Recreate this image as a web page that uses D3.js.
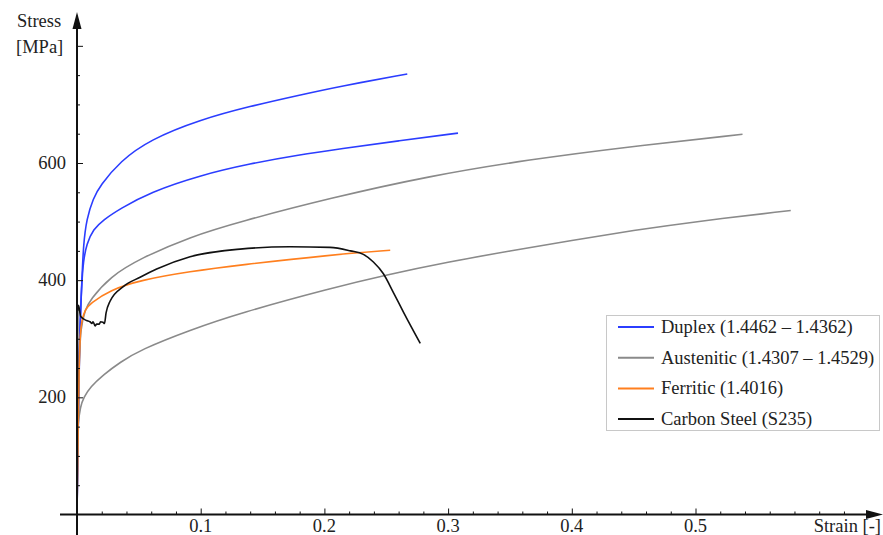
<!doctype html>
<meta charset="utf-8">
<title>Stress strain curves</title>
<script src="https://cdn.jsdelivr.net/npm/d3@7"></script>
<style>
  body { margin: 0; background: #fff; }
</style>
<svg id="chart" width="883" height="535"></svg>
<script>
  // strain [-], stress [MPa]
  const duplexHigh = [[0, 0], [0.0015, 250], [0.0025, 330], [0.0038, 390], [0.0051, 460], [0.0078, 505], [0.0132, 540], [0.0186, 561], [0.0348, 603], [0.059, 640], [0.0994, 674], [0.14, 697], [0.18, 716], [0.2126, 731], [0.267, 752]]
  const duplexLow = [[0, 0], [0.002, 300], [0.0038, 395], [0.0051, 432], [0.0078, 462], [0.0132, 487], [0.0213, 503], [0.0348, 522], [0.059, 550], [0.0994, 579], [0.14, 599], [0.18, 614], [0.2126, 624], [0.26, 638], [0.308, 651]]
  const austHigh = [[0, 0], [0.0015, 260], [0.003, 320], [0.0067, 350], [0.0105, 366], [0.0267, 406], [0.051, 437], [0.0914, 474], [0.1318, 500], [0.2045, 540], [0.285, 578], [0.366, 606], [0.447, 628], [0.538, 649]]
  const austLow = [[0, 0], [0.0003, 120], [0.0008, 155], [0.0027, 184], [0.0054, 200], [0.011, 218], [0.021, 238], [0.035, 260], [0.051, 281], [0.0914, 315], [0.1318, 344], [0.2045, 386], [0.25, 409], [0.3, 431], [0.35, 450], [0.4, 468], [0.45, 485], [0.5, 500], [0.577, 519]]
  const ferritic = [[0, 0], [0.0015, 250], [0.0027, 312], [0.004, 333], [0.0067, 350], [0.0105, 360], [0.0267, 383], [0.051, 400], [0.0914, 415], [0.1318, 426], [0.2045, 443], [0.2532, 451]]
  const carbon = [[0, 0], [0.0005, 348], [0.0012, 357], [0.003, 338], [0.0078, 331], [0.0105, 329], [0.012, 326], [0.013, 329], [0.0146, 322], [0.0159, 325], [0.018, 325], [0.019, 329], [0.021, 328], [0.0222, 326], [0.0235, 344], [0.0267, 364], [0.0374, 389], [0.051, 405], [0.0644, 419], [0.0914, 440], [0.1318, 453], [0.172, 457], [0.2045, 456], [0.221, 450], [0.2315, 444], [0.2396, 431], [0.2477, 411], [0.256, 378], [0.264, 345], [0.2775, 292]]

  const seriesNames = ['Duplex (1.4462 – 1.4362)', 'Austenitic (1.4307 – 1.4529)', 'Ferritic (1.4016)', 'Carbon Steel (S235)']
  const seriesColors = ['#2b3dff', '#8a8a8a', '#ff7f1e', '#111111']
  const curves = [
    { data: duplexHigh, group: 0 },
    { data: duplexLow, group: 0 },
    { data: austHigh, group: 1 },
    { data: austLow, group: 1 },
    { data: ferritic, group: 2 },
    { data: carbon, group: 3 },
  ]
  const xTickLabels = [0.1, 0.2, 0.3, 0.4, 0.5]
  const yTickLabels = [200, 400, 600]
  const serif = '"Liberation Serif", "Times New Roman", Times, serif'

  const svg = d3.select('#chart')
  const x = d3.scaleLinear().domain([0, 0.5]).range([77, 695.5])
  const y = d3.scaleLinear().domain([0, 600]).range([514.5, 163])

  // 曲线：光滑的材料曲线用 basis，碳钢屈服平台保留锯齿
  const smooth = d3.line().x(d => x(d[0])).y(d => y(d[1])).curve(d3.curveBasis)
  const jagged = d3.line().x(d => x(d[0])).y(d => y(d[1])).curve(d3.curveMonotoneX)

  svg.append('g')
    .selectAll('path')
    .data(curves)
    .join('path')
    .attr('d', d => (d.group === 3 ? jagged : smooth)(d.data))
    .attr('fill', 'none')
    .attr('stroke', d => seriesColors[d.group])
    .attr('stroke-width', 1.6)
    .attr('stroke-linejoin', 'round')

  // 坐标轴
  const xAxis = d3.axisTop(x)
    .tickValues(d3.range(0.02, 0.63, 0.02))
    .tickSize(3)
    .tickFormat('')
  const gx = svg.append('g').attr('transform', `translate(0,${y(0)})`).call(xAxis)
  gx.selectAll('.tick line').filter(d => xTickLabels.some(v => Math.abs(v - d) < 1e-6)).attr('y2', -6)
  gx.select('.domain').remove()

  const yAxis = d3.axisRight(y)
    .tickValues(d3.range(50, 801, 50))
    .tickSize(3)
    .tickFormat('')
  const gy = svg.append('g').attr('transform', `translate(${x(0)},0)`).call(yAxis)
  gy.selectAll('.tick line').filter(d => d % 200 === 0).attr('x2', 6)
  gy.select('.domain').remove()

  svg.selectAll('.tick line').attr('stroke', '#111').attr('stroke-width', 1)

  svg.append('line')
    .attr('x1', 60).attr('x2', 868).attr('y1', y(0)).attr('y2', y(0))
    .attr('stroke', '#111').attr('stroke-width', 2)
  svg.append('path')
    .attr('d', `M883,${y(0)} L866,${y(0) - 4.5} L866,${y(0) + 4.5} Z`)
    .attr('fill', '#111')
  svg.append('line')
    .attr('x1', x(0)).attr('x2', x(0)).attr('y1', 535).attr('y2', 26)
    .attr('stroke', '#111').attr('stroke-width', 2)
  svg.append('path')
    .attr('d', `M${x(0)},12 L${x(0) - 4.5},29 L${x(0) + 4.5},29 Z`)
    .attr('fill', '#111')

  const label = (sel) => sel.attr('font-family', serif).attr('font-size', 18.5).attr('fill', '#222')

  svg.append('g')
    .selectAll('text')
    .data(xTickLabels)
    .join('text')
    .attr('x', d => x(d))
    .attr('y', 532)
    .attr('text-anchor', 'middle')
    .call(label)
    .text(d => d3.format('.1f')(d))

  svg.append('g')
    .selectAll('text')
    .data(yTickLabels)
    .join('text')
    .attr('x', 66)
    .attr('y', d => y(d) + 6)
    .attr('text-anchor', 'end')
    .call(label)
    .text(d => d)

  svg.append('text').attr('x', 17).attr('y', 27).call(label).text('Stress')
  svg.append('text').attr('x', 16).attr('y', 53).call(label).text('[MPa]')
  svg.append('text').attr('x', 881).attr('y', 532).attr('text-anchor', 'end').call(label).text('Strain [-]')

  // 图例
  const legend = svg.append('g')
  legend.append('rect')
    .attr('x', 606.5).attr('y', 315.5).attr('width', 273).attr('height', 115)
    .attr('fill', '#fff').attr('stroke', '#c8c8c8').attr('stroke-width', 1)
  const rows = legend.selectAll('g')
    .data(seriesNames)
    .join('g')
    .attr('transform', (d, i) => `translate(0,${327 + i * 30.7})`)
  rows.append('line')
    .attr('x1', 618).attr('x2', 654).attr('y1', 0).attr('y2', 0)
    .attr('stroke', (d, i) => seriesColors[i]).attr('stroke-width', 2)
  rows.append('text')
    .attr('x', 661).attr('y', 6)
    .call(label)
    .text(d => d)
</script>
